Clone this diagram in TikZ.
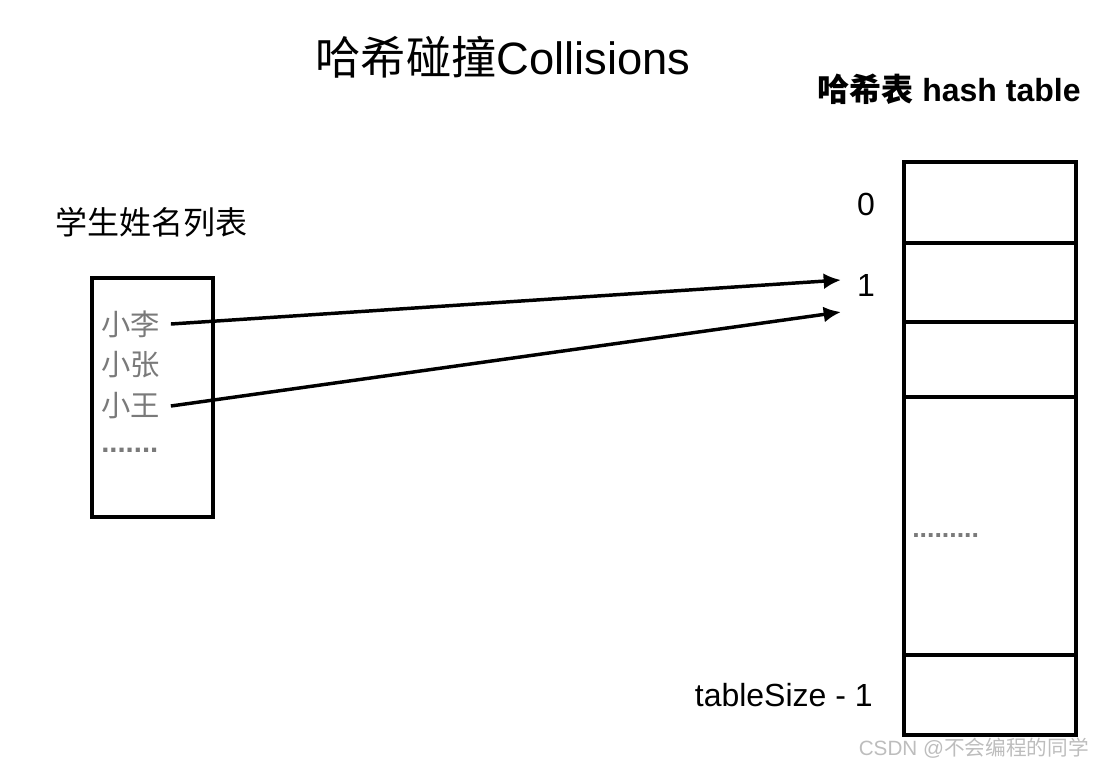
\documentclass[tikz,border=0pt]{standalone}
\usepackage{fontspec}
\setmainfont{Liberation Sans}
\newfontfamily\cjk{Noto Sans CJK SC}
\definecolor{namegray}{HTML}{7A7A7A}
\definecolor{markgray}{HTML}{BDBDBD}
\usetikzlibrary{arrows.meta, positioning}

\begin{document}
\begin{tikzpicture}[
        x=0.75pt, y=-0.75pt,
        cell/.style={rectangle, draw, line width=2.6pt, outer sep=0pt,
                     minimum width=129pt, inner sep=0pt},
        stuname/.style={anchor=west, inner sep=0pt, text=namegray,
                     font=\cjk\fontsize{22}{26}\selectfont},
        idx/.style={inner sep=0pt, font=\fontsize{24}{28}\selectfont},
        arr/.style={-{Latex[length=13pt, width=12pt]}, line width=2.6pt}
      ]
      \useasboundingbox (0,0) rectangle (1093,765);

      % title and headings
      \node[font=\fontsize{34}{40}\selectfont] (title) at (503,57)
        {{\cjk 哈希碰撞}Collisions};
      \node[font=\bfseries\fontsize{24}{28}\selectfont] (head) at (949,89)
        {{\cjk\bfseries 哈希表} hash table};
      \node[anchor=west, inner sep=0pt, font=\cjk\fontsize{24}{28}\selectfont]
        (list) at (55,222) {学生姓名列表};

      % student list
      \node[rectangle, draw, line width=2.6pt, minimum width=90.75pt,
            minimum height=179.25pt] (box) at (152.5,397.5) {};
      \node[stuname] (li)    at (101,324) {小李};
      \node[stuname] (zhang) at (101,365) {小张};
      \node[stuname] (wang)  at (101,406) {小王};
      \node[stuname, font=\bfseries\fontsize{22}{26}\selectfont] (more)
        at (101,450) {.......};

      % hash table
      \node[cell, minimum height=60.75pt, anchor=north] (c0) at (990,162) {};
      \node[cell, minimum height=59.25pt, below=0pt of c0] (c1) {};
      \node[cell, minimum height=56.25pt, below=0pt of c1] (c2) {};
      \node[cell, minimum height=193.5pt, below=0pt of c2] (cdots) {};
      \node[cell, minimum height=60pt, below=0pt of cdots] (clast) {};
      \node[anchor=west, inner sep=0pt, text=namegray,
            font=\bfseries\fontsize{20}{24}\selectfont] (dots) at (912,536)
        {.........};

      \node[idx] (i0) at (866,204) {0};
      \node[idx] (i1) at (866,285) {1};
      \node[idx, anchor=east] (ilast) at (873,695) {tableSize - 1};

      % collisions
      \coordinate (hit1) at (841,280);
      \coordinate (hit2) at (841,312);
      \draw[arr] (li.east) ++(8pt,0) coordinate (s1) -- (hit1);
      \draw[arr] (wang.east) ++(8pt,0) coordinate (s2) -- (hit2);

      \node[text=markgray, inner sep=0pt, anchor=east,
            font=\fontsize{15.5}{18}\selectfont] (mark) at (1089,748)
        {CSDN @{\cjk 不会编程的同学}};
    \end{tikzpicture}
\end{document}
